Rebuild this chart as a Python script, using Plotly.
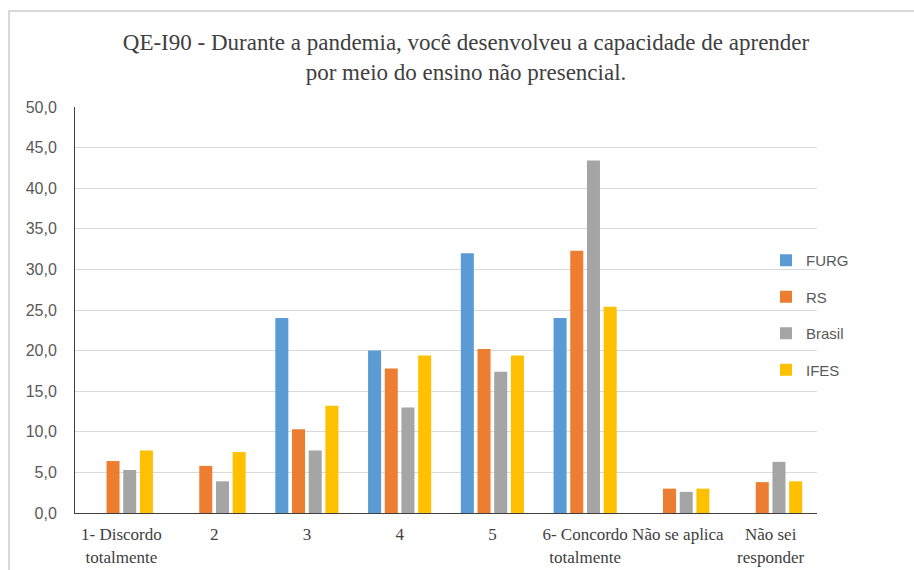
import plotly.graph_objects as go

# Response categories and share of respondents (%) per group
categories = ["1- Discordo<br>totalmente", "2", "3", "4", "5",
              "6- Concordo<br>totalmente", "Não se aplica", "Não sei<br>responder"]
furg = [0.0, 0.0, 24.0, 20.0, 32.0, 24.0, 0.0, 0.0]
rs = [6.4, 5.8, 10.3, 17.8, 20.2, 32.3, 3.0, 3.8]
brasil = [5.3, 3.9, 7.7, 13.0, 17.4, 43.4, 2.6, 6.3]
ifes = [7.7, 7.5, 13.2, 19.4, 19.4, 25.4, 3.0, 3.9]

series = [
    ("FURG", furg, "#5B9BD5"),
    ("RS", rs, "#ED7D31"),
    ("Brasil", brasil, "#A5A5A5"),
    ("IFES", ifes, "#FFC000"),
]

W, H = 914, 570
L, R, T, B = 75, 97, 107, 57
pw, ph = W - L - R, H - T - B

fig = go.Figure()
for name, vals, color in series:
    fig.add_trace(go.Bar(
        name=name, x=categories, y=vals,
        marker=dict(color=color, line=dict(width=0)),
        legendgroup=name,
    ))

# outer light-grey frame around the chart
def px_x(v):
    return (v - L) / pw

def px_y(v):
    return (H - B - v) / ph

fig.add_shape(type="rect", xref="paper", yref="paper",
              x0=px_x(9), x1=px_x(916), y0=px_y(575), y1=px_y(11),
              line=dict(color="#D9D9D9", width=2), fillcolor="rgba(0,0,0,0)",
              layer="below")

fig.update_layout(
    width=W, height=H,
    margin=dict(l=L, r=R, t=T, b=B, autoexpand=False),
    paper_bgcolor="white", plot_bgcolor="white",
    separators=",.",
    barmode="group", bargap=0.28, bargroupgap=0.22,
    title=dict(
        text="QE-I90 - Durante a pandemia, você desenvolveu a capacidade de aprender<br>por meio do ensino não presencial.",
        x=466 / W, xanchor="center", xref="container",
        y=1 - 50 / H, yanchor="middle", yref="container",
        font=dict(family="Liberation Serif", size=23, color="#404040"),
    ),
    legend=dict(
        x=px_x(766), xanchor="left", y=px_y(315), yanchor="middle",
        font=dict(family="Liberation Sans", size=15, color="#595959"),
        tracegroupgap=14, bgcolor="rgba(0,0,0,0)",
    ),
    xaxis=dict(
        automargin=False,
        showgrid=False, showline=True, linecolor="#404040", linewidth=1,
        ticks="", ticklabelstandoff=6,
        tickfont=dict(family="Liberation Serif", size=17, color="#404040"),
        tickangle=0,
    ),
    yaxis=dict(
        automargin=False,
        range=[0, 50], dtick=5, tickformat=".1f",
        showgrid=True, gridcolor="#D9D9D9", gridwidth=1,
        showline=True, linecolor="#404040", linewidth=1,
        zeroline=False, ticks="", ticklabelstandoff=14,
        tickfont=dict(family="Liberation Sans", size=16, color="#595959"),
    ),
)

fig.write_html("out.html")
